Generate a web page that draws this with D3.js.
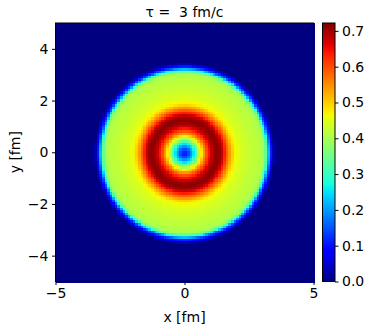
<!DOCTYPE html>
<html>
<head>
<meta charset="utf-8">
<script src="https://cdn.jsdelivr.net/npm/d3@7"></script>
<style>
body { margin: 0; background: #fff; }
text { font-family: "DejaVu Sans", sans-serif; fill: #000; }
</style>
</head>
<body>
<svg width="373" height="330"></svg>
<script>
// radial profile (r in fm -> value)
const radii = [0, 0.1, 0.2, 0.3, 0.4, 0.5, 0.6, 0.7, 0.8, 0.9, 1.0, 1.1, 1.2, 1.3, 1.4, 1.5, 1.6, 1.7, 1.8, 1.9,
	2.0, 2.1, 2.2, 2.3, 2.4, 2.5, 2.6, 2.7, 2.8, 2.9, 3.0, 3.1, 3.2, 3.3, 3.4, 3.5, 7.1];
const profile = [0.10, 0.12, 0.16, 0.22, 0.28, 0.36, 0.44, 0.51, 0.57, 0.62, 0.66, 0.69, 0.71, 0.715, 0.70, 0.66, 0.61, 0.56, 0.52, 0.48,
	0.46, 0.45, 0.44, 0.44, 0.43, 0.43, 0.42, 0.42, 0.42, 0.41, 0.41, 0.39, 0.30, 0.15, 0.07, 0.0, 0.0];
const xTicks = [-5, 0, 5];
const yTicks = [-4, -2, 0, 2, 4];
const cTicks = [0.0, 0.1, 0.2, 0.3, 0.4, 0.5, 0.6, 0.7];
const vmax = 0.722;
const nGrid = 100;

const svg = d3.select('svg');
const pL = 55.5, pR = 313.5, pT = 23, pB = 281.5;
const fs = '14px';

const x = d3.scaleLinear().domain([-5, 5]).range([pL, pR]);
const y = d3.scaleLinear().domain([-5, 5]).range([pB, pT]);
const radial = d3.scaleLinear().domain(radii).range(profile).clamp(true);

// matplotlib jet
const jr = d3.scaleLinear().domain([0, 0.35, 0.66, 0.89, 1]).range([0, 0, 1, 1, 0.5]).clamp(true);
const jg = d3.scaleLinear().domain([0, 0.125, 0.375, 0.64, 0.91, 1]).range([0, 0, 1, 1, 0, 0]).clamp(true);
const jb = d3.scaleLinear().domain([0, 0.11, 0.34, 0.65, 1]).range([0.5, 1, 1, 0, 0]).clamp(true);
function jet(v) {
	const t = v / vmax;
	return d3.rgb(jr(t) * 255, jg(t) * 255, jb(t) * 255).toString();
}

// grid cells
const step = 10 / nGrid;
const cells = [];
for (let i = 0; i < nGrid; i++) {
	for (let j = 0; j < nGrid; j++) {
		const cx = -5 + (i + 0.5) * step, cy = -5 + (j + 0.5) * step;
		cells.push({ x0: -5 + i * step, y1: -5 + (j + 1) * step, v: radial(Math.hypot(cx, cy)) });
	}
}
svg.append('g')
	.attr('id', 'heat')
	.attr('shape-rendering', 'crispEdges')
	.selectAll('rect')
	.data(cells)
	.enter()
	.append('rect')
	.attr('x', d => x(d.x0))
	.attr('y', d => y(d.y1))
	.attr('width', x(step) - x(0) + 1)
	.attr('height', y(0) - y(step) + 1)
	.attr('fill', d => jet(d.v));

// frame + axes
svg.append('rect')
	.attr('x', pL).attr('y', pT)
	.attr('width', pR - pL).attr('height', pB - pT)
	.attr('fill', 'none').attr('stroke', '#000').attr('stroke-width', 1);

const fmt = d => d < 0 ? '\u2212' + Math.abs(d) : String(d);
const xAxis = svg.append('g')
	.attr('transform', `translate(0,${pB})`)
	.call(d3.axisBottom(x).tickValues(xTicks).tickFormat(fmt).tickSize(3.5).tickPadding(3.5));
const yAxis = svg.append('g')
	.attr('transform', `translate(${pL},0)`)
	.call(d3.axisLeft(y).tickValues(yTicks).tickFormat(fmt).tickSize(3.5).tickPadding(3.5));
[xAxis, yAxis].forEach(g => {
	g.select('.domain').remove();
	g.selectAll('text').style('font-size', fs).style('font-family', '"DejaVu Sans", sans-serif');
	g.selectAll('line').attr('stroke', '#000');
});

svg.append('text')
	.attr('x', (pL + pR) / 2).attr('y', 322)
	.attr('text-anchor', 'middle').style('font-size', fs)
	.text('x [fm]');
svg.append('text')
	.attr('transform', `translate(20,${(pT + pB) / 2}) rotate(-90)`)
	.attr('text-anchor', 'middle').style('font-size', fs)
	.text('y [fm]');
svg.append('text')
	.attr('x', (pL + pR) / 2).attr('y', 17)
	.attr('text-anchor', 'middle').style('font-size', fs)
	.style('white-space', 'pre')
	.text('\u03c4 =  3 fm/c');

// colorbar
const cbL = 322.5, cbW = 12.5;
const cScale = d3.scaleLinear().domain([0, vmax]).range([pB, pT]);
const defs = svg.append('defs');
const grad = defs.append('linearGradient')
	.attr('id', 'jetgrad')
	.attr('x1', 0).attr('y1', 1).attr('x2', 0).attr('y2', 0);
grad.selectAll('stop')
	.data(d3.range(0, 1.0001, 0.02))
	.enter()
	.append('stop')
	.attr('offset', d => d)
	.attr('stop-color', d => jet(d * vmax));
svg.append('rect')
	.attr('x', cbL).attr('y', pT)
	.attr('width', cbW).attr('height', pB - pT)
	.attr('fill', 'url(#jetgrad)')
	.attr('stroke', '#000').attr('stroke-width', 1);
const cAxis = svg.append('g')
	.attr('transform', `translate(${cbL + cbW},0)`)
	.call(d3.axisRight(cScale).tickValues(cTicks).tickFormat(d3.format('.1f')).tickSize(3.5).tickPadding(3.5));
cAxis.select('.domain').remove();
cAxis.selectAll('text').style('font-size', fs).style('font-family', '"DejaVu Sans", sans-serif');
cAxis.selectAll('line').attr('stroke', '#000');
</script>
</body>
</html>
